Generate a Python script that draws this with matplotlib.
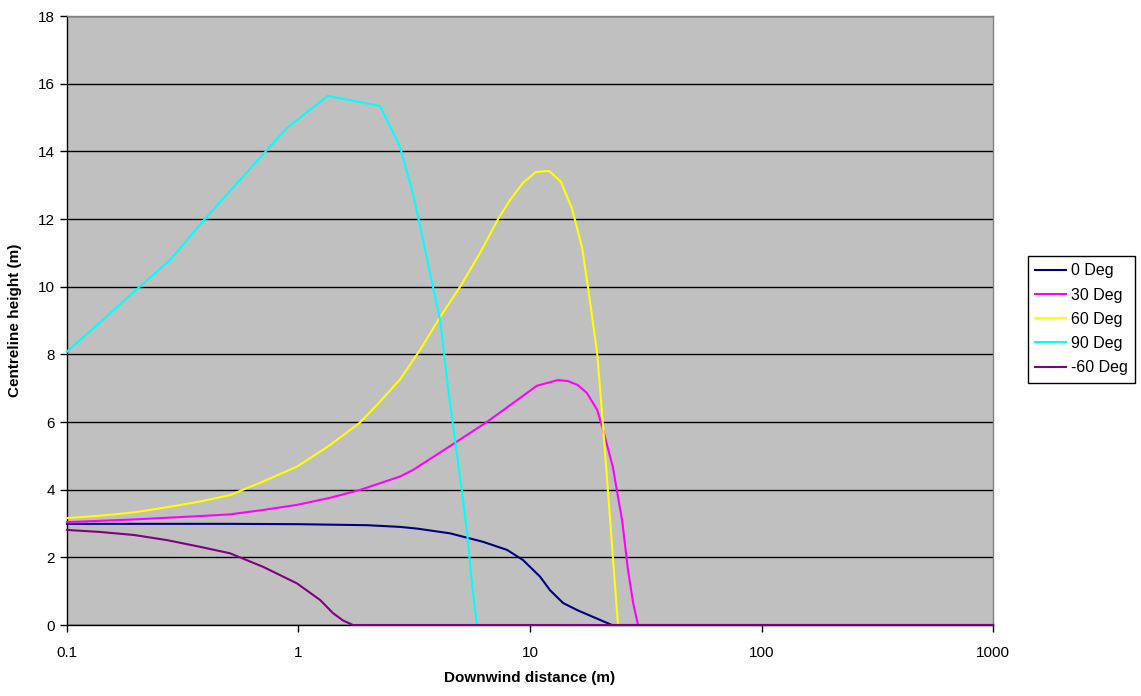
import matplotlib
matplotlib.use("Agg")
import matplotlib.pyplot as plt
from matplotlib.ticker import FixedLocator, FixedFormatter, NullLocator

plt.rcParams['font.family'] = ['Liberation Sans', 'DejaVu Sans']

# Centreline height vs downwind distance for each release angle
x_0 = [0.1, 0.5, 1.0, 1.98, 2.745, 3.25, 4.51, 6.26, 7.96, 9.33, 11.05, 12.2, 13.9,
       16.0, 18.7, 22.6, 1000]
y_0 = [2.99, 2.99, 2.98, 2.95, 2.90, 2.85, 2.71, 2.46, 2.22, 1.92, 1.43, 1.03, 0.65,
       0.44, 0.24, 0.0, 0.0]

x_30 = [0.1, 0.139, 0.195, 0.270, 0.376, 0.506, 0.703, 0.985, 1.37, 1.84, 2.25, 2.745,
        3.12, 4.38, 6.51, 9.06, 10.7, 13.2, 14.6, 16.1, 17.6, 19.5, 20.7, 22.8, 24.0,
        25.0, 26.5, 27.9, 29.3, 1000]
y_30 = [3.04, 3.08, 3.12, 3.17, 3.22, 3.27, 3.40, 3.55, 3.76, 3.99, 4.19, 4.39,
        4.58, 5.23, 6.0, 6.71, 7.07, 7.24, 7.21, 7.09, 6.86, 6.36, 5.76, 4.67, 3.78,
        3.1, 1.63, 0.65, 0.0, 0.0]

x_60 = [0.1, 0.139, 0.195, 0.270, 0.376, 0.506, 0.703, 0.985, 1.37, 1.84, 2.25, 2.745,
        3.35, 4.09, 4.99, 6.08, 7.28, 8.2, 9.33, 10.6, 12.1, 13.6, 15.2, 16.8, 17.8,
        19.5, 20.7, 21.7, 22.8, 24.0, 1000]
y_60 = [3.16, 3.23, 3.33, 3.48, 3.65, 3.84, 4.24, 4.68, 5.32, 5.98, 6.6, 7.26,
        8.13, 9.1, 10.0, 10.99, 12.0, 12.56, 13.07, 13.39, 13.42, 13.1, 12.3, 11.14, 9.99,
        8.04, 5.85, 3.99, 2.01, 0.0, 0.0]

x_90 = [0.1, 0.143, 0.206, 0.279, 0.394, 0.558, 0.89, 1.34, 2.25, 2.745, 3.12, 3.45,
        3.81, 4.09, 4.42, 5.14, 5.35, 5.61, 5.90, 1000]
y_90 = [8.08, 9.02, 10.0, 10.79, 12.0, 13.15, 14.69, 15.64, 15.34, 14.13, 12.77, 11.38,
        9.99, 9.02, 7.03, 3.69, 2.72, 1.24, 0.0, 0.0]

x_m60 = [0.1, 0.139, 0.195, 0.270, 0.376, 0.506, 0.703, 0.985, 1.24, 1.41, 1.56, 1.72, 1000]
y_m60 = [2.81, 2.75, 2.66, 2.51, 2.31, 2.12, 1.72, 1.23, 0.74, 0.35, 0.13, 0.0, 0.0]

series = [
    ('0 Deg', x_0, y_0, '#000080'),
    ('30 Deg', x_30, y_30, '#FF00FF'),
    ('60 Deg', x_60, y_60, '#FFFF00'),
    ('90 Deg', x_90, y_90, '#00FFFF'),
    ('-60 Deg', x_m60, y_m60, '#800080'),
]

x_ticks = [0.1, 1, 10, 100, 1000]
x_tick_labels = ['0.1', '1', '10', '100', '1000']
y_ticks = list(range(0, 19, 2))

fig = plt.figure(figsize=(11.41, 6.96), dpi=100)
ax = fig.add_axes([0.0587, 0.102, 0.8116, 0.875])
ax.set_facecolor('#C0C0C0')

for label, xs, ys, color in series:
    ax.plot(xs, ys, color=color, lw=1.5, label=label, clip_on=False, zorder=3)

ax.set_xscale('log')
ax.set_xlim(0.1, 1000)
ax.set_ylim(0, 18)
ax.xaxis.set_major_locator(FixedLocator(x_ticks))
ax.xaxis.set_major_formatter(FixedFormatter(x_tick_labels))
ax.xaxis.set_minor_locator(NullLocator())
ax.set_yticks(y_ticks)

ax.grid(axis='y', color='black', lw=1, zorder=1)
ax.set_axisbelow(True)

for side in ['left', 'bottom']:
    ax.spines[side].set_color('black')
    ax.spines[side].set_linewidth(1)
for side in ['top', 'right']:
    ax.spines[side].set_color('#808080')
    ax.spines[side].set_linewidth(1)

ax.tick_params(axis='both', direction='out', length=5, width=1, labelsize=11, colors='black')
ax.tick_params(axis='x', pad=10)

ax.set_xlabel('Downwind distance (m)', fontsize=11, fontweight='bold', labelpad=8)
ax.set_ylabel('Centreline height (m)', fontsize=11, fontweight='bold', labelpad=12)

leg = ax.legend(loc='center left', bbox_to_anchor=(1.038, 0.502), fontsize=11.5,
                frameon=True, fancybox=False, edgecolor='black', framealpha=1,
                handlelength=1.9, handletextpad=0.35, labelspacing=0.58,
                borderpad=0.45, borderaxespad=0)
leg.get_frame().set_linewidth(1)

fig.savefig('out.png', dpi=100)
